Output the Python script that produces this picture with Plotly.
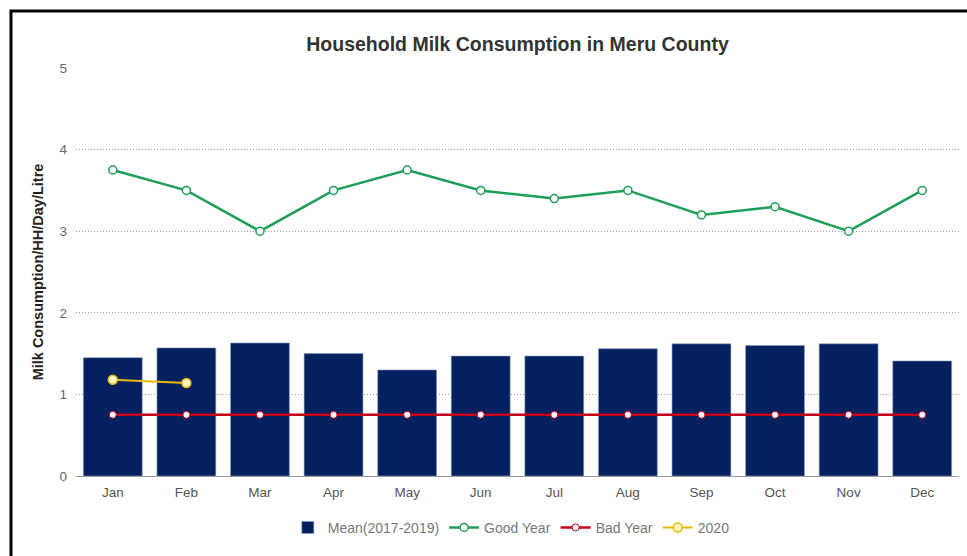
import plotly.graph_objects as go

months = ["Jan", "Feb", "Mar", "Apr", "May", "Jun", "Jul", "Aug", "Sep", "Oct", "Nov", "Dec"]
mean_2017_2019 = [1.45, 1.57, 1.63, 1.50, 1.30, 1.47, 1.47, 1.56, 1.62, 1.60, 1.62, 1.41]
good_year = [3.75, 3.5, 3.0, 3.5, 3.75, 3.5, 3.4, 3.5, 3.2, 3.3, 3.0, 3.5]
bad_year = [0.75] * 12
year_2020 = [1.18, 1.14]
y_ticks = [0, 1, 2, 3, 4, 5]

FONT = "Liberation Sans, Arial, Helvetica, sans-serif"

fig = go.Figure()
fig.add_trace(go.Bar(
    x=months, y=mean_2017_2019, name="Mean(2017-2019)",
    marker=dict(color="#03205f", line=dict(width=0.6, color="#8a9cc0")),
))
fig.add_trace(go.Scatter(
    x=months, y=good_year, name="Good Year", mode="lines+markers",
    line=dict(color="#1e9e57", width=2.5),
    marker=dict(symbol="circle", size=8, color="white", line=dict(color="#1e9e57", width=1.5)),
))
fig.add_trace(go.Scatter(
    x=months, y=bad_year, name="Bad Year", mode="lines+markers",
    line=dict(color="#c40018", width=2.5),
    marker=dict(symbol="circle", size=7, color="white", line=dict(color="#c40018", width=1)),
))
fig.add_trace(go.Scatter(
    x=months[:len(year_2020)], y=year_2020, name="2020", mode="lines+markers",
    line=dict(color="#e8b90c", width=2),
    marker=dict(symbol="circle", size=9, color="#fbf6c0", line=dict(color="#e8b90c", width=1.5)),
))

fig.update_layout(
    width=967, height=556,
    margin=dict(l=76, r=8, t=68, b=80, autoexpand=False),
    paper_bgcolor="white", plot_bgcolor="white",
    font=dict(family=FONT, color="#555555", size=12),
    bargap=0.2,
    hovermode=False,
    title=dict(
        text="<b>Household Milk Consumption in Meru County</b>",
        xref="paper", x=0.5, xanchor="center", y=0.92, yanchor="middle",
        font=dict(size=19.5, color="#333333", family=FONT),
    ),
    legend=dict(
        orientation="h", x=0.493, xanchor="center", y=-0.127, yanchor="middle",
        font=dict(size=14, color="#777777"),
        itemwidth=30,
    ),
    showlegend=True,
)
fig.update_xaxes(
    range=[-0.5, len(months) - 0.5],
    showgrid=False, showline=True, linecolor="#999999", linewidth=1,
    ticks="", tickfont=dict(size=13.5, color="#555555"), automargin=False,
    ticklabelstandoff=4,
)
fig.update_yaxes(
    range=[0, 5], tickvals=y_ticks, showline=False, zeroline=False,
    showgrid=True, gridcolor="#a0a0a0", gridwidth=1, griddash="1px,2px",
    ticks="", tickfont=dict(size=13.5, color="#666666"), automargin=False,
    ticklabelstandoff=8,
    title=dict(text="<b>Milk Consumption/HH/Day/Litre</b>", font=dict(size=14.5, color="#222222"), standoff=12),
)

# thin black frame around the chart panel
fig.add_shape(
    type="rect", xref="paper", yref="paper",
    x0=(11 - 76) / 883, x1=1.1, y0=-0.4, y1=(476 - 11) / 408,
    line=dict(color="black", width=3), fillcolor="rgba(0,0,0,0)", layer="above",
)

fig.write_html("out.html")
